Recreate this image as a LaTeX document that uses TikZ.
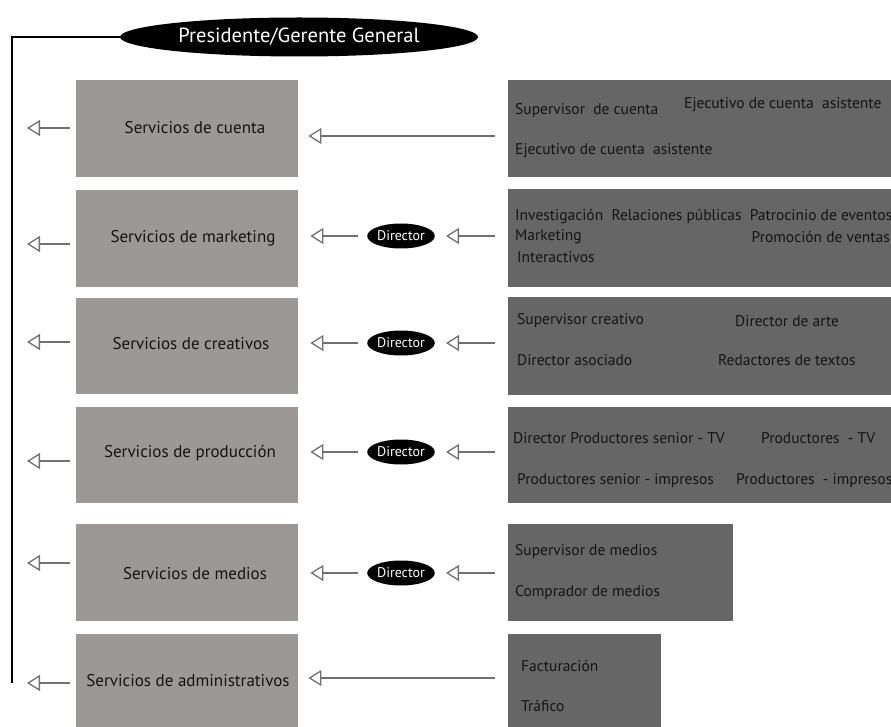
\documentclass[tikz,border=0pt]{standalone}
\usepackage{fontspec}
\setmainfont{PT Sans}
\usetikzlibrary{arrows.meta,shapes.geometric}
\definecolor{lbox}{HTML}{9C9896}
\definecolor{rbox}{HTML}{666666}
\definecolor{txt}{HTML}{141414}
\definecolor{arr}{HTML}{707070}
\tikzset{
  leftbox/.style={fill=lbox, draw=none, anchor=north west, inner sep=0pt},
  rightbox/.style={fill=rbox, draw=none, anchor=north west, inner sep=0pt},
  ltext/.style={text=txt, font=\fontsize{17}{20}\selectfont},
  rtext/.style={text=txt, font=\fontsize{15.5}{18}\selectfont, anchor=west, inner sep=0pt},
  dirnode/.style={ellipse, fill=black, text=white, inner sep=0pt, minimum width=60pt, minimum height=25pt, font=\fontsize{14}{15}\selectfont},
  conn/.style={draw=arr, line width=1.3pt, -{Triangle[open, length=13pt, width=16pt, line width=1.3pt]}},
}
\begin{document}
\begin{tikzpicture}[x=1pt,y=-1pt]
\useasboundingbox (0,0) rectangle (891,727);
% top ellipse
\node[ellipse, fill=black, text=white, minimum width=358pt, minimum height=39pt, inner sep=0pt, font=\fontsize{20.5}{24}\selectfont] (pres) at (299,37) {Presidente/Gerente General};
\coordinate (vt) at (12,37);
\coordinate (vb) at (12,683);
\draw[black, line width=1.3pt] (pres.west) -- (vt) -- (vb);

% left boxes
\foreach \n/\y/\h in {l1/80/97, l2/190/97, l3/298/96, l4/407/96, l5/524/97, l6/634/93}{
  \node[leftbox, minimum width=222pt, minimum height=\h pt] (\n) at (76,\y) {};
}
% right boxes
\node[rightbox, minimum width=383pt, minimum height=97pt] (r1) at (508,80) {};
\node[rightbox, minimum width=383pt, minimum height=98pt] (r2) at (508,189) {};
\node[rightbox, minimum width=383pt, minimum height=98pt] (r3) at (508,297) {};
\node[rightbox, minimum width=383pt, minimum height=96pt] (r4) at (508,407) {};
\node[rightbox, minimum width=225pt, minimum height=97pt] (r5) at (508,524) {};
\node[rightbox, minimum width=153pt, minimum height=93pt] (r6) at (508,634) {};

% left box labels
\node[ltext] (t1) at (195,128) {Servicios de cuenta};
\node[ltext] (t2) at (193,238) {Servicios de marketing};
\node[ltext] (t3) at (191,344) {Servicios de creativos};
\node[ltext] (t4) at (190,453) {Servicios de producción};
\node[ltext] (t5) at (195,574) {Servicios de medios};
\node[ltext] (t6) at (188,681) {Servicios de administrativos};

% left arrows
\foreach \n/\y in {l1/128, l2/244, l3/342, l4/461, l5/563, l6/683}{
  \coordinate (e\n) at (27,\y);
  \draw[conn] (\n.west |- e\n) ++(-6,0) -- (e\n);
}

% directors
\node[dirnode] (d2) at (401,236) {Director};
\node[dirnode] (d3) at (401,343) {Director};
\node[dirnode] (d4) at (401,452) {Director};
\node[dirnode] (d5) at (401,573) {Director};

% middle connectors (no director)
\coordinate (a1) at (495,136);
\coordinate (a6) at (495,678);
\draw[conn, shorten >=10pt] (a1) -- (a1 -| l1.east);
\draw[conn, shorten >=10pt] (a6) -- (a6 -| l6.east);

% connectors through directors
\foreach \i in {2,3,4,5}{
  \coordinate (a\i) at (495,0 |- d\i);
  \draw[conn, shorten >=11pt] (a\i) -- (d\i.east);
  \draw[conn, shorten <=9pt, shorten >=12pt] (d\i.west) -- (d\i.west -| l\i.east);
}

% right box texts
\node[rtext] (s1a) at (515,111) {Supervisor\ \ de cuenta};
\node[rtext] (s1b) at (684,105) {Ejecutivo de cuenta\ \ asistente};
\node[rtext] (s1c) at (515,151) {Ejecutivo de cuenta\ \ asistente};

\node[rtext] (s2a) at (515,217) {Investigación\ \ Relaciones públicas\ \ Patrocinio de eventos};
\node[rtext] (s2b) at (515,237) {Marketing};
\node[rtext, anchor=east] (s2c) at (890,237) {Promoción de ventas};
\node[rtext] (s2d) at (517,257) {Interactivos};

\node[rtext] (s3a) at (517,321) {Supervisor creativo};
\node[rtext] (s3b) at (735,321) {Director de arte};
\node[rtext] (s3c) at (517,360) {Director asociado};
\node[rtext] (s3d) at (718,360) {Redactores de textos};

\node[rtext] (s4a) at (513,438) {Director Productores senior - TV};
\node[rtext] (s4b) at (761,438) {Productores\ \ - TV};
\node[rtext] (s4c) at (517,481) {Productores senior - impresos};
\node[rtext] (s4d) at (736,481) {Productores\ \ - impresos};

\node[rtext] (s5a) at (515,552) {Supervisor de medios};
\node[rtext] (s5b) at (515,593) {Comprador de medios};

\node[rtext] (s6a) at (521,666) {Facturación};
\node[rtext] (s6b) at (521,706) {Tráfico};
\end{tikzpicture}
\end{document}
